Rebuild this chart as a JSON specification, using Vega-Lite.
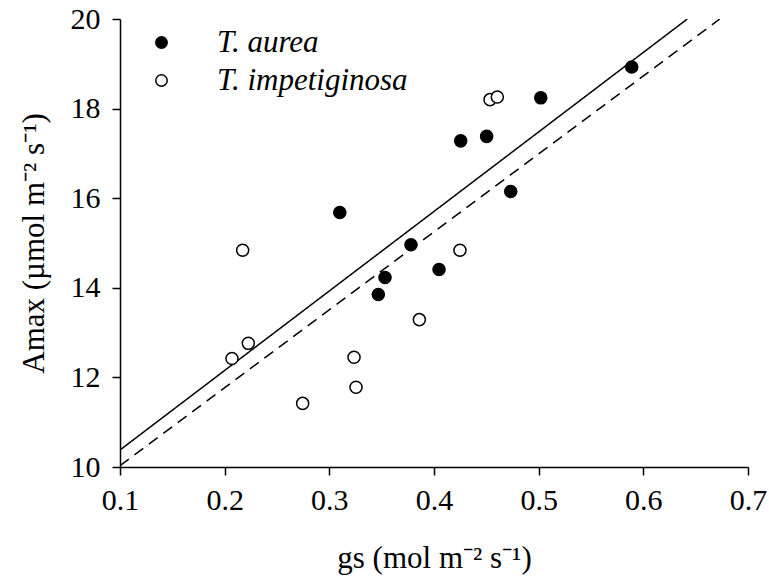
{
  "$schema": "https://vega.github.io/schema/vega-lite/v6.json",
  "width": 628,
  "height": 448,
  "autosize": {"type": "none"},
  "padding": {"left": 120, "top": 19, "right": 21, "bottom": 113},
  "background": "white",
  "config": {
    "view": {"stroke": null},
    "font": "Liberation Serif",
    "axis": {
      "grid": false,
      "labelFlush": false,
      "labelOverlap": false,
      "domainColor": "black",
      "domainWidth": 1.5,
      "tickColor": "black",
      "tickWidth": 1.5,
      "tickSize": 8,
      "labelFont": "Liberation Serif",
      "labelFontSize": 30,
      "labelColor": "black",
      "titleFont": "Liberation Serif",
      "titleFontSize": 31,
      "titleFontWeight": "normal",
      "titleColor": "black"
    }
  },
  "datasets": {
    "pts": [
      {"gs": 0.310, "amax": 15.68, "species": "T. aurea"},
      {"gs": 0.502, "amax": 18.24, "species": "T. aurea"},
      {"gs": 0.4255, "amax": 17.28, "species": "T. aurea"},
      {"gs": 0.4503, "amax": 17.38, "species": "T. aurea"},
      {"gs": 0.5889, "amax": 18.93, "species": "T. aurea"},
      {"gs": 0.4733, "amax": 16.15, "species": "T. aurea"},
      {"gs": 0.378, "amax": 14.96, "species": "T. aurea"},
      {"gs": 0.4048, "amax": 14.41, "species": "T. aurea"},
      {"gs": 0.3532, "amax": 14.23, "species": "T. aurea"},
      {"gs": 0.3468, "amax": 13.85, "species": "T. aurea"},
      {"gs": 0.4535, "amax": 18.20, "species": "T. impetiginosa"},
      {"gs": 0.4605, "amax": 18.26, "species": "T. impetiginosa"},
      {"gs": 0.2172, "amax": 14.84, "species": "T. impetiginosa"},
      {"gs": 0.4248, "amax": 14.84, "species": "T. impetiginosa"},
      {"gs": 0.386, "amax": 13.29, "species": "T. impetiginosa"},
      {"gs": 0.2226, "amax": 12.76, "species": "T. impetiginosa"},
      {"gs": 0.207, "amax": 12.42, "species": "T. impetiginosa"},
      {"gs": 0.3236, "amax": 12.45, "species": "T. impetiginosa"},
      {"gs": 0.3255, "amax": 11.78, "species": "T. impetiginosa"},
      {"gs": 0.2745, "amax": 11.42, "species": "T. impetiginosa"}
    ],
    "fits": [
      {"gs": 0.1, "amax": 10.38, "fit": "fit 1"},
      {"gs": 0.642, "amax": 20.0, "fit": "fit 1"},
      {"gs": 0.1, "amax": 10.03, "fit": "fit 2"},
      {"gs": 0.673, "amax": 20.0, "fit": "fit 2"}
    ]
  },
  "layer": [
    {
      "data": {"name": "fits"},
      "mark": {"type": "line", "color": "black", "strokeWidth": 1.5, "clip": true},
      "encoding": {
        "x": {"field": "gs", "type": "quantitative"},
        "y": {"field": "amax", "type": "quantitative"},
        "detail": {"field": "fit", "type": "nominal"},
        "strokeDash": {
          "field": "fit",
          "type": "nominal",
          "scale": {"domain": ["fit 1", "fit 2"], "range": [[1, 0], [11, 7]]},
          "legend": null
        }
      }
    },
    {
      "data": {"name": "pts"},
      "mark": {"type": "point", "filled": true, "stroke": "black", "strokeWidth": 1.5, "opacity": 1, "shape": "circle", "size": 145},
      "encoding": {
        "x": {
          "field": "gs",
          "type": "quantitative",
          "scale": {"domain": [0.1, 0.7], "nice": false, "zero": false},
          "axis": {
            "values": [0.1, 0.2, 0.3, 0.4, 0.5, 0.6, 0.7],
            "format": ".1f",
            "labelPadding": 10,
            "titlePadding": 28,
            "title": "gs (mol m⁻² s⁻¹)"
          }
        },
        "y": {
          "field": "amax",
          "type": "quantitative",
          "scale": {"domain": [10, 20], "nice": false, "zero": false},
          "axis": {
            "values": [10, 12, 14, 16, 18, 20],
            "format": "d",
            "labelPadding": 12,
            "titlePadding": 20,
            "title": "Amax (µmol m⁻² s⁻¹)"
          }
        },
        "fill": {
          "field": "species",
          "type": "nominal",
          "scale": {"domain": ["T. aurea", "T. impetiginosa"], "range": ["black", "white"]},
          "legend": {
            "orient": "none",
            "legendX": 26,
            "legendY": 8,
            "title": null,
            "padding": 0,
            "labelFont": "Liberation Serif",
            "labelFontSize": 31,
            "labelFontStyle": "italic",
            "labelColor": "black",
            "labelLimit": 0,
            "labelOffset": 40,
            "rowPadding": 6,
            "symbolType": "circle",
            "symbolStrokeColor": "black",
            "symbolStrokeWidth": 1.5,
            "symbolSize": 130
          }
        }
      }
    }
  ]
}
